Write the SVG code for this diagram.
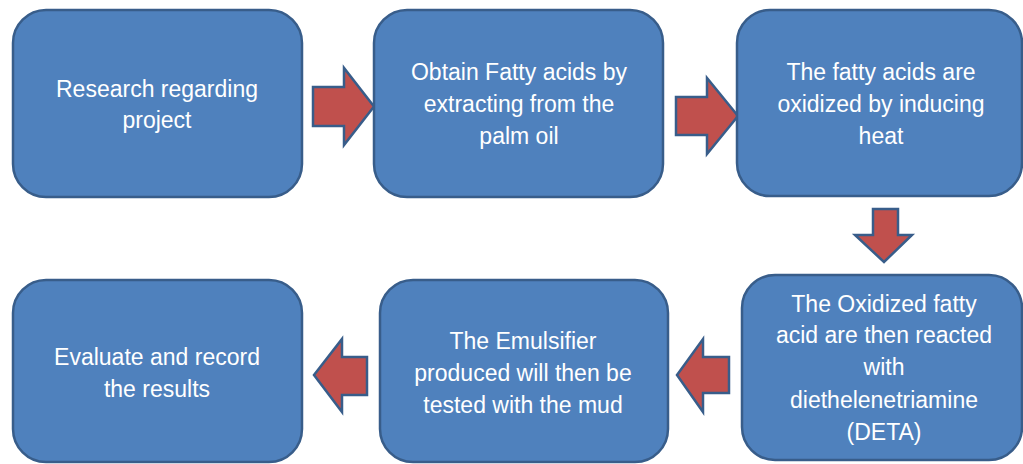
<svg xmlns="http://www.w3.org/2000/svg" width="1023" height="464" viewBox="0 0 1023 464">
<style>
.box{fill:#4F81BD;stroke:#385D8A;stroke-width:2.5}
.arr{fill:#C0504D;stroke:#385D8A;stroke-width:2.5;stroke-linejoin:miter}
.t{font-family:"Liberation Sans",Arial,sans-serif;font-size:23px;fill:#FFFFFF;text-anchor:middle}
</style>
<rect width="1023" height="464" fill="#FFFFFF"/>
<g id="connectors">
<polygon class="arr" points="313,87 344,87 344,68 374,106.5 344,145 344,126 313,126"/>
<polygon class="arr" points="676,97 707,97 707,78 738,116 707,154 707,135 676,135"/>
<polygon class="arr" points="873,209 898,209 898,235 912,235 884,262 855,235 873,235"/>
<polygon class="arr" points="729,357 703,357 703,339 677,375 703,412 703,393 729,393"/>
<polygon class="arr" points="367,357 342,357 342,339 314,375 342,412 342,395 367,395"/>
</g>
<g id="n1">
<rect class="box" x="13" y="10" width="289" height="187" rx="33" ry="33"/>
<text class="t" x="157" y="97">Research regarding</text>
<text class="t" x="157" y="128">project</text>
</g>
<g id="n2">
<rect class="box" x="374" y="10" width="289" height="187" rx="33" ry="33"/>
<text class="t" x="519" y="80">Obtain Fatty acids by</text>
<text class="t" x="519" y="112">extracting from the</text>
<text class="t" x="519" y="144">palm oil</text>
</g>
<g id="n3">
<rect class="box" x="737" y="10" width="285" height="186" rx="33" ry="33"/>
<text class="t" x="881" y="80">The fatty acids are</text>
<text class="t" x="881" y="112">oxidized by inducing</text>
<text class="t" x="881" y="144">heat</text>
</g>
<g id="n4">
<rect class="box" x="742" y="275" width="280" height="185" rx="33" ry="33"/>
<text class="t" x="884" y="312">The Oxidized fatty</text>
<text class="t" x="884" y="343">acid are then reacted</text>
<text class="t" x="884" y="375">with</text>
<text class="t" x="884" y="408">diethelenetriamine</text>
<text class="t" x="884" y="440">(DETA)</text>
</g>
<g id="n5">
<rect class="box" x="380" y="280" width="288" height="182" rx="33" ry="33"/>
<text class="t" x="523" y="349">The Emulsifier</text>
<text class="t" x="523" y="381">produced will then be</text>
<text class="t" x="523" y="413">tested with the mud</text>
</g>
<g id="n6">
<rect class="box" x="13" y="280" width="289" height="182" rx="33" ry="33"/>
<text class="t" x="157" y="365">Evaluate and record</text>
<text class="t" x="157" y="397">the results</text>
</g>
</svg>
